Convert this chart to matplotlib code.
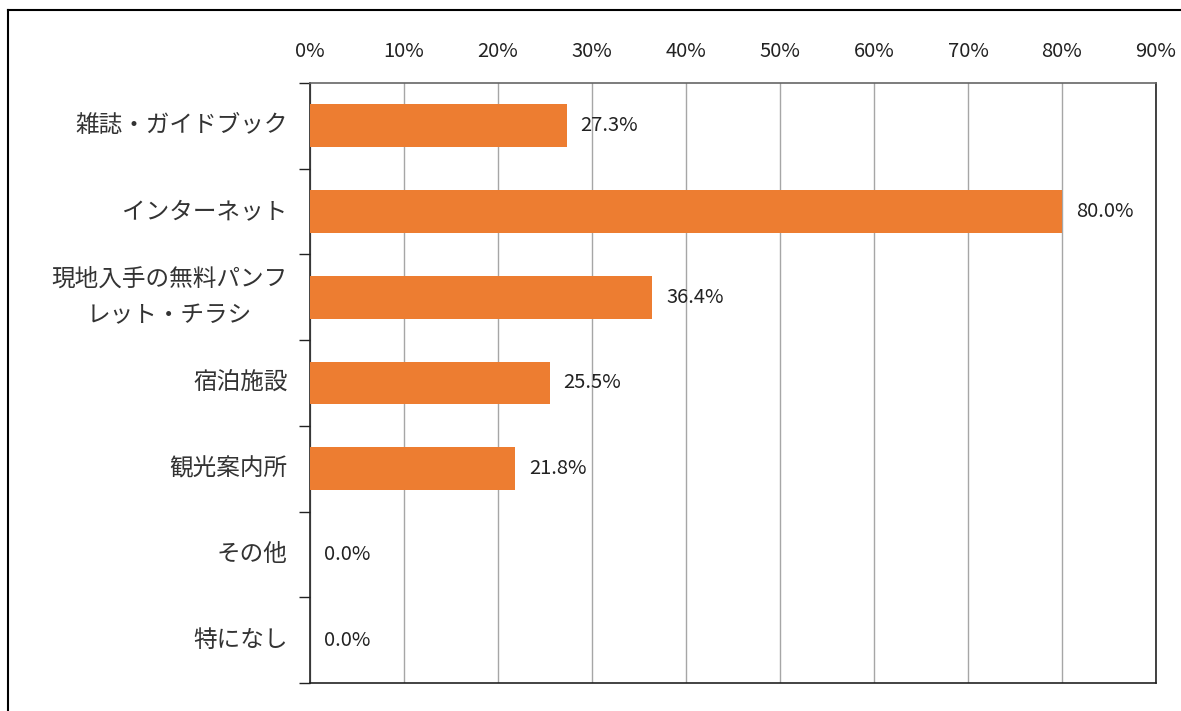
import matplotlib.pyplot as plt
from matplotlib.lines import Line2D
import numpy as np

plt.rcParams['font.family'] = ['Noto Sans CJK JP', 'DejaVu Sans']

# data
categories = ["雑誌・ガイドブック", "インターネット", "現地入手の無料パンフ\nレット・チラシ",
              "宿泊施設", "観光案内所", "その他", "特になし"]
values = [27.3, 80.0, 36.4, 25.5, 21.8, 0.0, 0.0]
xticks = [0, 10, 20, 30, 40, 50, 60, 70, 80, 90]

bar_color = "#ED7D31"

fig = plt.figure(figsize=(11.81, 7.11), dpi=100)
W, H = 1181, 711
# plot area in pixels: left 310, right 1156, top 83, bottom 683
ax = fig.add_axes([310 / W, 1 - 683 / H, (1156 - 310) / W, (683 - 83) / H])

y = np.arange(len(categories))
ax.barh(y, values, height=0.5, color=bar_color, zorder=3)

# data labels just right of each bar
for yi, v in zip(y, values):
    ax.annotate(f"{v:.1f}%", xy=(v, yi), xytext=(14, 0), textcoords="offset pixels",
                va="center", ha="left", fontsize=14.5, color="#222222")

ax.set_xlim(0, 90)
ax.set_ylim(len(categories) - 0.5, -0.5)
ax.set_xticks(xticks)
ax.set_xticklabels([f"{t}%" for t in xticks])
ax.xaxis.tick_top()
ax.tick_params(axis="x", length=0, pad=15, labelsize=14.5, labelcolor="#222222")
ax.grid(axis="x", color="#A6A6A6", linewidth=1.0, zorder=0)

ax.set_yticks(y)
ax.set_yticklabels(categories, multialignment="center", linespacing=1.75, va="center")
ax.tick_params(axis="y", which="major", length=0, pad=16, labelsize=17, labelcolor="#333333")
ax.set_yticks(np.arange(-0.5, len(categories)), minor=True)
ax.tick_params(axis="y", which="minor", length=8, width=1.0, color="#222222")

for s in ax.spines.values():
    s.set_color("#222222")
    s.set_linewidth(1.2)
ax.spines["top"].set_color("#666666")

# outer frame from the source screenshot (cut at right and bottom)
fig.add_artist(Line2D([8 / W, 8 / W], [1 - 10 / H, 0], color="black", linewidth=1.5))
fig.add_artist(Line2D([8 / W, 1], [1 - 10 / H, 1 - 10 / H], color="black", linewidth=1.5))

fig.savefig("out.png", dpi=100)
